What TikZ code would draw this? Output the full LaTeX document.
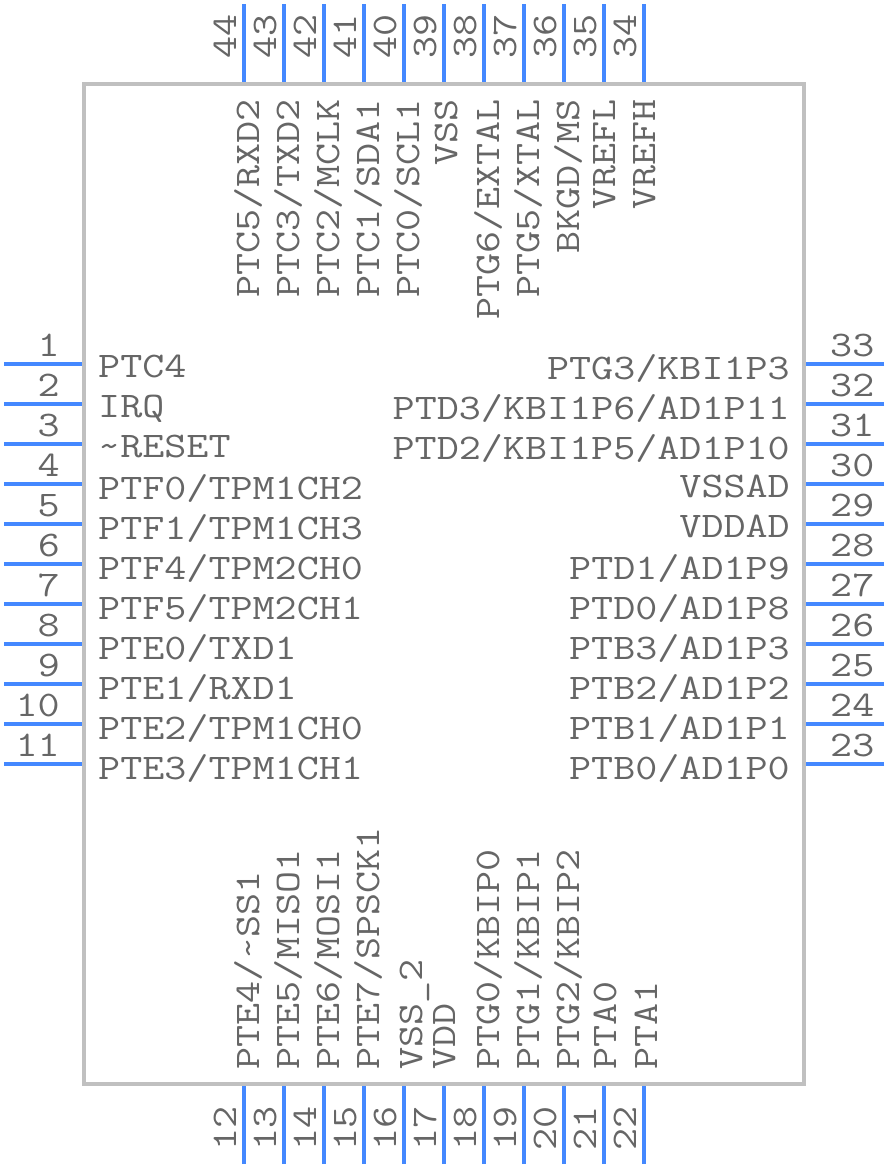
\documentclass[tikz,border=0pt]{standalone}
\usepackage{fontspec}
\setmonofont[FakeStretch=1.19]{Latin Modern Mono}
\usetikzlibrary{positioning}
\definecolor{pinblue}{HTML}{4488FF}
\definecolor{bodygray}{HTML}{C0C0C0}
\definecolor{textgray}{HTML}{666666}
\newcommand{\pintext}{\fontsize{36}{38}\selectfont\ttfamily}

\begin{document}
\begin{tikzpicture}[x=1pt,y=-1pt,node distance=40pt,on grid,
		chip/.style={rectangle,draw=bodygray,line width=4pt,outer sep=0pt,minimum width=720pt,minimum height=1000pt},
		pin/.style={draw=pinblue,line width=4pt,shorten >=2pt},
		txt/.style={text=textgray,inner sep=0pt,font=\pintext},
		numl/.style={txt,anchor=base east,xshift=56pt,yshift=8pt},
		numr/.style={txt,anchor=base west,xshift=-54pt,yshift=8pt},
		numb/.style={txt,xshift=-8pt,yshift=13pt,rotate=90,anchor=base west},
		numt/.style={txt,xshift=-8pt,yshift=-55pt,rotate=90,anchor=base west},
		labl/.style={txt,anchor=base west,xshift=94pt,yshift=-15pt},
		labr/.style={txt,anchor=base east,xshift=-94pt,yshift=-15pt},
		labt/.style={txt,xshift=15pt,yshift=-95pt,rotate=90,anchor=base east},
		labb/.style={txt,xshift=15pt,yshift=94pt,rotate=90,anchor=base west}]
		\useasboundingbox (0,0) rectangle (888,1168);

		\node[chip] (chip) at (444,584) {};

		% left side
		\coordinate (p1) at (4,364);
		\coordinate[below=of p1] (p2);
		\coordinate[below=of p2] (p3);
		\coordinate[below=of p3] (p4);
		\coordinate[below=of p4] (p5);
		\coordinate[below=of p5] (p6);
		\coordinate[below=of p6] (p7);
		\coordinate[below=of p7] (p8);
		\coordinate[below=of p8] (p9);
		\coordinate[below=of p9] (p10);
		\coordinate[below=of p10] (p11);

		\node[numl] (n1) at (p1) {1};    \node[labl] (l1) at ([yshift=2pt]p1) {PTC4};
		\node[numl] (n2) at (p2) {2};    \node[labl] (l2) at ([yshift=2pt]p2) {IRQ};
		\node[numl] (n3) at (p3) {3};    \node[labl] (l3) at ([yshift=2pt]p3) {\textasciitilde RESET};
		\node[numl] (n4) at (p4) {4};    \node[labl] (l4) at (p4) {PTF0/TPM1CH2};
		\node[numl] (n5) at (p5) {5};    \node[labl] (l5) at (p5) {PTF1/TPM1CH3};
		\node[numl] (n6) at (p6) {6};    \node[labl] (l6) at (p6) {PTF4/TPM2CH0};
		\node[numl] (n7) at (p7) {7};    \node[labl] (l7) at (p7) {PTF5/TPM2CH1};
		\node[numl] (n8) at (p8) {8};    \node[labl] (l8) at (p8) {PTE0/TXD1};
		\node[numl] (n9) at (p9) {9};    \node[labl] (l9) at (p9) {PTE1/RXD1};
		\node[numl] (n10) at (p10) {10}; \node[labl] (l10) at (p10) {PTE2/TPM1CH0};
		\node[numl] (n11) at (p11) {11}; \node[labl] (l11) at (p11) {PTE3/TPM1CH1};

		% right side
		\coordinate (p33) at (884,364);
		\coordinate[below=of p33] (p32);
		\coordinate[below=of p32] (p31);
		\coordinate[below=of p31] (p30);
		\coordinate[below=of p30] (p29);
		\coordinate[below=of p29] (p28);
		\coordinate[below=of p28] (p27);
		\coordinate[below=of p27] (p26);
		\coordinate[below=of p26] (p25);
		\coordinate[below=of p25] (p24);
		\coordinate[below=of p24] (p23);

		\node[numr] (n33) at (p33) {33}; \node[labr] (l33) at (p33) {PTG3/KBI1P3};
		\node[numr] (n32) at (p32) {32}; \node[labr] (l32) at (p32) {PTD3/KBI1P6/AD1P11};
		\node[numr] (n31) at (p31) {31}; \node[labr] (l31) at (p31) {PTD2/KBI1P5/AD1P10};
		\node[numr] (n30) at (p30) {30}; \node[labr] (l30) at ([yshift=2pt]p30) {VSSAD};
		\node[numr] (n29) at (p29) {29}; \node[labr] (l29) at ([yshift=2pt]p29) {VDDAD};
		\node[numr] (n28) at (p28) {28}; \node[labr] (l28) at (p28) {PTD1/AD1P9};
		\node[numr] (n27) at (p27) {27}; \node[labr] (l27) at (p27) {PTD0/AD1P8};
		\node[numr] (n26) at (p26) {26}; \node[labr] (l26) at (p26) {PTB3/AD1P3};
		\node[numr] (n25) at (p25) {25}; \node[labr] (l25) at (p25) {PTB2/AD1P2};
		\node[numr] (n24) at (p24) {24}; \node[labr] (l24) at (p24) {PTB1/AD1P1};
		\node[numr] (n23) at (p23) {23}; \node[labr] (l23) at (p23) {PTB0/AD1P0};

		% bottom side
		\coordinate (p12) at (244,1164);
		\coordinate[right=of p12] (p13);
		\coordinate[right=of p13] (p14);
		\coordinate[right=of p14] (p15);
		\coordinate[right=of p15] (p16);
		\coordinate[right=of p16] (p17);
		\coordinate[right=of p17] (p18);
		\coordinate[right=of p18] (p19);
		\coordinate[right=of p19] (p20);
		\coordinate[right=of p20] (p21);
		\coordinate[right=of p21] (p22);

		\node[numb] (n12) at (p12) {12}; \node[labb] (l12) at (p12) {PTE4/\textasciitilde SS1};
		\node[numb] (n13) at (p13) {13}; \node[labb] (l13) at (p13) {PTE5/MISO1};
		\node[numb] (n14) at (p14) {14}; \node[labb] (l14) at (p14) {PTE6/MOSI1};
		\node[numb] (n15) at (p15) {15}; \node[labb] (l15) at (p15) {PTE7/SPSCK1};
		\node[numb] (n16) at (p16) {16}; \node[labb] (l16) at ([xshift=3pt]p16) {VSS\_2};
		\node[numb] (n17) at (p17) {17}; \node[labb] (l17) at ([xshift=-4pt]p17) {VDD};
		\node[numb] (n18) at (p18) {18}; \node[labb] (l18) at (p18) {PTG0/KBIP0};
		\node[numb] (n19) at (p19) {19}; \node[labb] (l19) at (p19) {PTG1/KBIP1};
		\node[numb] (n20) at (p20) {20}; \node[labb] (l20) at (p20) {PTG2/KBIP2};
		\node[numb] (n21) at (p21) {21}; \node[labb] (l21) at ([xshift=-3pt]p21) {PTA0};
		\node[numb] (n22) at (p22) {22}; \node[labb] (l22) at ([xshift=-2pt]p22) {PTA1};

		% top side
		\coordinate (p44) at (244,4);
		\coordinate[right=of p44] (p43);
		\coordinate[right=of p43] (p42);
		\coordinate[right=of p42] (p41);
		\coordinate[right=of p41] (p40);
		\coordinate[right=of p40] (p39);
		\coordinate[right=of p39] (p38);
		\coordinate[right=of p38] (p37);
		\coordinate[right=of p37] (p36);
		\coordinate[right=of p36] (p35);
		\coordinate[right=of p35] (p34);

		\node[numt] (n44) at (p44) {44}; \node[labt] (l44) at (p44) {PTC5/RXD2};
		\node[numt] (n43) at (p43) {43}; \node[labt] (l43) at (p43) {PTC3/TXD2};
		\node[numt] (n42) at (p42) {42}; \node[labt] (l42) at (p42) {PTC2/MCLK};
		\node[numt] (n41) at (p41) {41}; \node[labt] (l41) at (p41) {PTC1/SDA1};
		\node[numt] (n40) at (p40) {40}; \node[labt] (l40) at (p40) {PTC0/SCL1};
		\node[numt] (n39) at (p39) {39}; \node[labt] (l39) at ([xshift=-2pt]p39) {VSS};
		\node[numt] (n38) at (p38) {38}; \node[labt] (l38) at (p38) {PTG6/EXTAL};
		\node[numt] (n37) at (p37) {37}; \node[labt] (l37) at (p37) {PTG5/XTAL};
		\node[numt] (n36) at (p36) {36}; \node[labt] (l36) at (p36) {BKGD/MS};
		\node[numt] (n35) at (p35) {35}; \node[labt] (l35) at ([xshift=-4pt]p35) {VREFL};
		\node[numt] (n34) at (p34) {34}; \node[labt] (l34) at ([xshift=-4pt]p34) {VREFH};

		\path[pin]
		(p1) edge (p1 -| chip.west)
		(p2) edge (p2 -| chip.west)
		(p3) edge (p3 -| chip.west)
		(p4) edge (p4 -| chip.west)
		(p5) edge (p5 -| chip.west)
		(p6) edge (p6 -| chip.west)
		(p7) edge (p7 -| chip.west)
		(p8) edge (p8 -| chip.west)
		(p9) edge (p9 -| chip.west)
		(p10) edge (p10 -| chip.west)
		(p11) edge (p11 -| chip.west)
		(p12) edge (p12 |- chip.south)
		(p13) edge (p13 |- chip.south)
		(p14) edge (p14 |- chip.south)
		(p15) edge (p15 |- chip.south)
		(p16) edge (p16 |- chip.south)
		(p17) edge (p17 |- chip.south)
		(p18) edge (p18 |- chip.south)
		(p19) edge (p19 |- chip.south)
		(p20) edge (p20 |- chip.south)
		(p21) edge (p21 |- chip.south)
		(p22) edge (p22 |- chip.south)
		(p23) edge (p23 -| chip.east)
		(p24) edge (p24 -| chip.east)
		(p25) edge (p25 -| chip.east)
		(p26) edge (p26 -| chip.east)
		(p27) edge (p27 -| chip.east)
		(p28) edge (p28 -| chip.east)
		(p29) edge (p29 -| chip.east)
		(p30) edge (p30 -| chip.east)
		(p31) edge (p31 -| chip.east)
		(p32) edge (p32 -| chip.east)
		(p33) edge (p33 -| chip.east)
		(p34) edge (p34 |- chip.north)
		(p35) edge (p35 |- chip.north)
		(p36) edge (p36 |- chip.north)
		(p37) edge (p37 |- chip.north)
		(p38) edge (p38 |- chip.north)
		(p39) edge (p39 |- chip.north)
		(p40) edge (p40 |- chip.north)
		(p41) edge (p41 |- chip.north)
		(p42) edge (p42 |- chip.north)
		(p43) edge (p43 |- chip.north)
		(p44) edge (p44 |- chip.north);
\end{tikzpicture}
\end{document}
